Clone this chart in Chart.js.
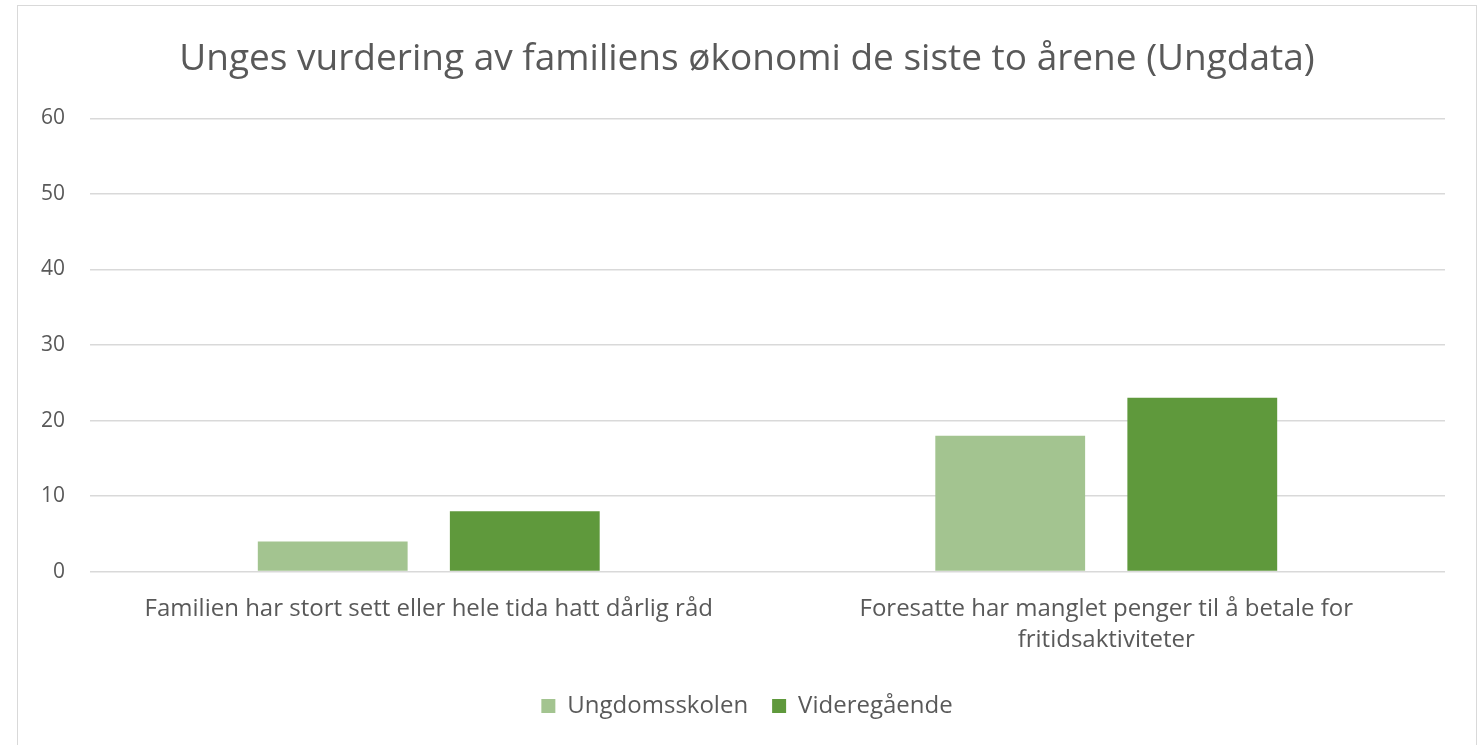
<!DOCTYPE html>
<html>
<head>
<meta charset="utf-8">
<script src="https://cdn.jsdelivr.net/npm/chart.js@4/dist/chart.umd.min.js"></script>
<style>
  body { margin: 0; background: #fff; }
  #box {
    position: absolute; left: 17px; top: 5px;
    width: 1458px; height: 745px;
    border: 1px solid #d9d9d9; border-bottom: none;
  }
</style>
</head>
<body>
<div id="box"><canvas id="myChart" width="1458" height="740"></canvas></div>
<script>
const categories = [
  'Familien har stort sett eller hele tida hatt dårlig råd',
  ['Foresatte har manglet penger til å betale for', 'fritidsaktiviteter']
];
const ungdomsskolen = [4, 18];
const videregaende = [8, 23];
const yTicks = [0, 10, 20, 30, 40, 50, 60];

const grey = '#595959';
const font = '"Open Sans", sans-serif';

const ctx = document.getElementById('myChart');
new Chart(ctx, {
  type: 'bar',
  data: {
    labels: categories,
    datasets: [{
      label: 'Ungdomsskolen',
      data: ungdomsskolen,
      backgroundColor: '#a3c490'
    },
    {
      label: 'Videregående',
      data: videregaende,
      backgroundColor: '#5f993c'
    }]
  },
  options: {
    responsive: false,
    animation: false,
    layout: { padding: { bottom: 18 } },
    datasets: {
      bar: { categoryPercentage: 0.567, barPercentage: 0.78 }
    },
    scales: {
      x: {
        grid: { display: false },
        border: { display: false },
        ticks: { color: grey, font: { family: font, size: 24, lineHeight: 1.3 }, padding: 14, maxRotation: 0 }
      },
      y: {
        min: 0,
        max: 60,
        afterBuildTicks: function (scale) { scale.ticks = yTicks.map(v => ({ value: v })); },
        afterFit: function (scale) { scale.width = 72; },
        grid: { color: '#d9d9d9', lineWidth: 1.5, drawTicks: false },
        border: { display: false },
        ticks: { color: grey, font: { family: font, size: 21 }, padding: 25 }
      },
      // empty right axis, only to keep a gap on the right while the title stays centred
      yRight: {
        position: 'right',
        min: 0,
        max: 60,
        afterFit: function (scale) { scale.width = 31; },
        grid: { display: false },
        border: { display: false },
        ticks: { display: false }
      }
    },
    plugins: {
      title: {
        display: true,
        text: 'Unges vurdering av familiens økonomi de siste to årene (Ungdata)',
        color: grey,
        font: { family: font, size: 37, weight: '400' },
        padding: { top: 31, bottom: 37 }
      },
      legend: {
        position: 'bottom',
        labels: {
          color: grey,
          font: { family: font, size: 24 },
          boxWidth: 14,
          boxHeight: 14,
          padding: 24
        }
      },
      tooltip: { enabled: false }
    }
  }
});
</script>
</body>
</html>
